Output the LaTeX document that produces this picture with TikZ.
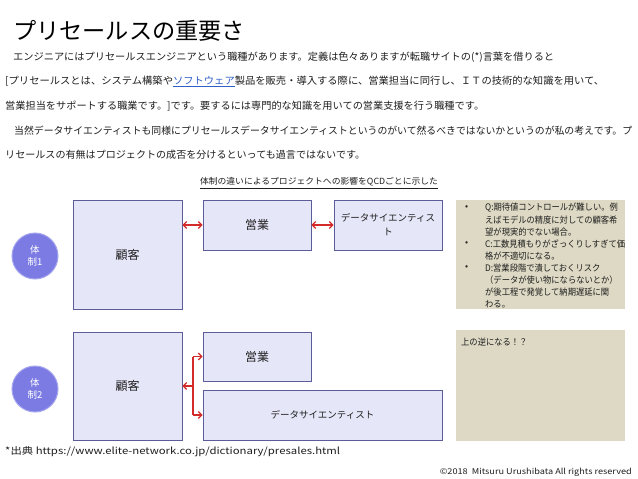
\documentclass[tikz,border=0pt]{standalone}
\usepackage{fontspec}
\setmainfont{Noto Sans CJK JP}
\usepackage{graphicx}
\usetikzlibrary{arrows.meta}
\definecolor{boxfill}{HTML}{E6E6F9}
\definecolor{boxline}{HTML}{5C5C99}
\definecolor{notefill}{HTML}{DDD9C4}
\definecolor{circfill}{HTML}{7B7BE3}
\definecolor{circline}{HTML}{A6A6EE}
\definecolor{arrowred}{HTML}{D42A2A}
\definecolor{linkblue}{HTML}{2F5FC8}
\definecolor{bodytext}{HTML}{1E1E1E}

\newsavebox\fitbox
\newlength\fitlen
\newcommand\fitw[2]{\sbox\fitbox{#2}\setlength\fitlen{\wd\fitbox}\pgfmathsetmacro\fitr{#1/\fitlen}\scalebox{\fitr}[1]{\usebox\fitbox}}
\newcommand\nt[1]{\scalebox{0.92}[1]{#1}}
\newcommand\bodyfont{\fontsize{10}{12}\selectfont}
\newcommand\notefont{\fontsize{9}{11}\selectfont}

\tikzset{
  txt/.style={inner sep=0pt, anchor=west, text=bodytext},
  block/.style={draw=boxline, fill=boxfill, line width=0.9pt, inner sep=0pt, align=center, text=bodytext},
  badge/.style={circle, draw=circline, fill=circfill, line width=1pt, minimum size=46pt, inner sep=0pt, text=white, align=center, font=\fontsize{9.5}{11.5}\selectfont},
  note/.style={fill=notefill, inner sep=0pt},
  notetxt/.style={txt, font=\notefont},
  link/.style={draw=arrowred, line width=1.1pt, arrows={Straight Barb[length=3.5pt,width=7pt]-Straight Barb[length=3.5pt,width=7pt]}},
  linkone/.style={draw=arrowred, line width=1.1pt, arrows={-Straight Barb[length=3.5pt,width=7pt]}},
  redline/.style={draw=arrowred, line width=1.1pt},
}

\begin{document}
\begin{tikzpicture}[x=1pt,y=-1pt]
\useasboundingbox (0,0) rectangle (638,479);
\fill[white] (0,0) rectangle (638,479);

% title and body text
\node[txt, text=black, font=\fontsize{23}{26}\selectfont] (title) at (13,31) {\fitw{232}{プリセールスの重要さ}};
\node[txt, font=\bodyfont] (l1) at (13,57) {\fitw{541}{エンジニアにはプリセールスエンジニアという職種があります。定義は色々ありますが転職サイトの(*)言葉を借りると}};
\node[txt, font=\bodyfont] (l2) at (5,81) {\fitw{599}{[プリセールスとは、システム構築や\textcolor{linkblue}{\underline{ソフトウェア}}製品を販売・導入する際に、営業担当に同行し、ＩＴの技術的な知識を用いて、}};
\node[txt, font=\bodyfont] (l3) at (5,106) {\fitw{479}{営業担当をサポートする職業です。]です。要するには専門的な知識を用いての営業支援を行う職種です。}};
\node[txt, font=\bodyfont] (l4) at (14,131) {\fitw{618}{当然データサイエンティストも同様にプリセールスデータサイエンティストというのがいて然るべきではないかというのが私の考えです。プ}};
\node[txt, font=\bodyfont] (l5) at (5,155) {\fitw{360}{リセールスの有無はプロジェクトの成否を分けるといっても過言ではないです。}};

\node[inner sep=0pt, text=bodytext, font=\fontsize{8.5}{10}\selectfont] (sub) at (319,183) {\fitw{238}{\underline{体制の違いによるプロジェクトへの影響をQCDごとに示した}}};

% structure 1
\node[badge] (c1) at (35,256) {体\\制1};
\node[block, minimum width=109pt, minimum height=109pt, font=\fontsize{12}{14}\selectfont] (k1) at (127.5,254.5) {顧客};
\node[block, minimum width=108pt, minimum height=50pt, font=\fontsize{12}{14}\selectfont] (e1) at (257,225) {営業};
\node[block, minimum width=108pt, minimum height=50pt, font=\fontsize{9.5}{14}\selectfont] (d1) at (388,225) {データサイエンティス\\ト};
\draw[link] (k1.east |- e1.west) -- (e1.west);
\draw[link] (e1.east) -- (d1.west);

\node[note, minimum width=169pt, minimum height=109pt] (n1) at (540.5,254.5) {};
\node[notetxt] (b1) at (465,208) {•};
\node[notetxt] (q1) at (485,208) {\nt{Q:期待値コントロールが難しい。例}};
\node[notetxt] (q2) at (485,220) {\nt{えばモデルの精度に対しての顧客希}};
\node[notetxt] (q3) at (485,232) {\nt{望が現実的でない場合。}};
\node[notetxt] (b2) at (465,244) {•};
\node[notetxt] (c1t) at (485,244) {\nt{C:工数見積もりがざっくりしすぎて価}};
\node[notetxt] (c2t) at (485,256) {\nt{格が不適切になる。}};
\node[notetxt] (b3) at (465,268) {•};
\node[notetxt] (d1t) at (485,268) {\nt{D:営業段階で潰しておくリスク}};
\node[notetxt] (d2t) at (485,280) {\nt{（データが使い物にならないとか）}};
\node[notetxt] (d3t) at (485,292) {\nt{が後工程で発覚して納期遅延に関}};
\node[notetxt] (d4t) at (485,304) {\nt{わる。}};

% structure 2
\node[badge] (c2) at (35,389) {体\\制2};
\node[block, minimum width=109pt, minimum height=108pt, font=\fontsize{12}{14}\selectfont] (k2) at (127.5,386) {顧客};
\node[block, minimum width=108pt, minimum height=49pt, font=\fontsize{12}{14}\selectfont] (e2) at (257,356.5) {営業};
\node[block, minimum width=239pt, minimum height=50pt, font=\fontsize{9.5}{14}\selectfont] (d2) at (322.5,415) {データサイエンティスト};
\coordinate (j) at ([xshift=10.5pt]k2.east);
\draw[redline] (j |- e2.west) -- (j |- d2.west);
\draw[linkone] (j |- e2.west) -- (e2.west);
\draw[linkone] (j |- d2.west) -- (d2.west);
\draw[linkone] (j) -- (k2.east);

\node[note, minimum width=169pt, minimum height=111pt] (n2) at (540.5,385.5) {};
\node[notetxt] (rev) at (461,342) {\nt{上の逆になる！？}};

% footer
\node[txt, font=\fontsize{9.5}{11}\selectfont] (src) at (5,452) {\fitw{335}{*出典 https://www.elite-network.co.jp/dictionary/presales.html}};
\node[inner sep=0pt, anchor=east, text=bodytext, font=\fontsize{8}{10}\selectfont] (copy) at (632,472) {\fitw{192}{©2018\ \ Mitsuru Urushibata All rights reserved}};
\end{tikzpicture}
\end{document}
